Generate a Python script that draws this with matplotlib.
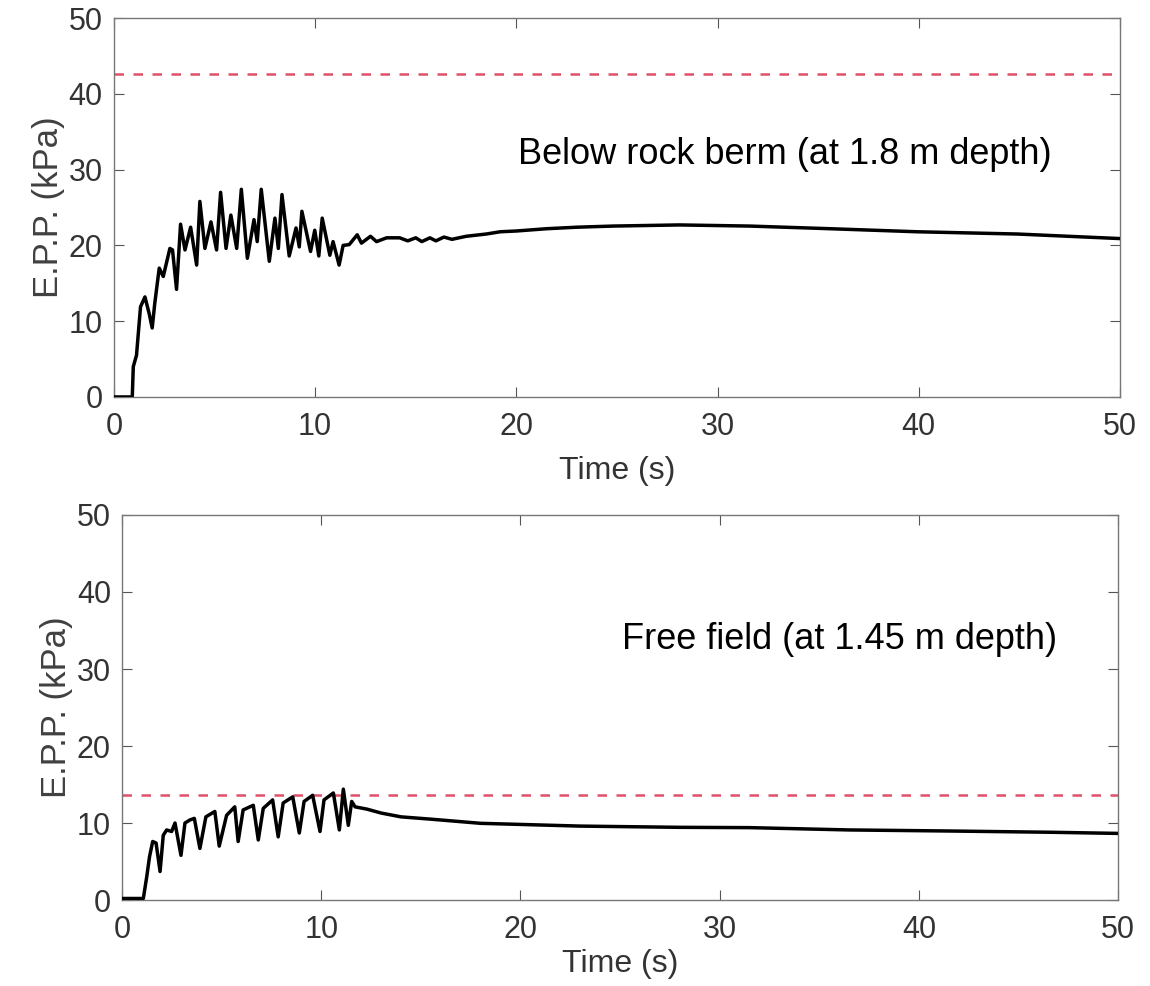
import numpy as np
import matplotlib.pyplot as plt

plt.rcParams['font.family'] = ['Liberation Sans', 'DejaVu Sans']

# below rock berm (1.8 m depth)
t_top = [0, 0.91, 0.96, 1.12, 1.32, 1.54, 1.75, 1.90, 2.03, 2.25, 2.45, 2.78, 2.91, 3.11,
         3.31, 3.53, 3.81, 4.11, 4.27, 4.52, 4.82, 5.10, 5.30, 5.57, 5.81, 6.10, 6.33,
         6.63, 6.96, 7.12, 7.32, 7.72, 8.00, 8.17, 8.35, 8.71, 9.05, 9.21, 9.34, 9.77,
         9.98, 10.18, 10.35, 10.73, 10.89, 11.19, 11.39, 11.69, 12.09, 12.30, 12.75,
         13.05, 13.55, 14.2, 14.6, 15.0, 15.3, 15.7, 16.0, 16.4, 16.8, 17.5, 18.5, 19.2,
         20.0, 21.5, 23.0, 24.8, 28.1, 31.6, 35.6, 39.9, 44.9, 50.0]
p_top = [0, 0, 4.0, 5.5, 11.9, 13.2, 11.0, 9.1, 12.4, 17.0, 15.9, 19.6, 19.4, 14.2,
         22.8, 19.4, 22.4, 17.4, 25.8, 19.6, 23.1, 19.4, 27.0, 19.6, 24.0, 19.6, 27.4,
         18.3, 23.4, 20.5, 27.4, 17.9, 23.6, 19.6, 26.7, 18.6, 22.3, 19.8, 24.5, 19.2,
         22.0, 18.6, 23.6, 18.7, 20.5, 17.4, 20.0, 20.1, 21.4, 20.3, 21.2,
         20.5, 21.0, 21.0, 20.6, 21.0, 20.5, 21.0, 20.6, 21.1, 20.8, 21.2, 21.5, 21.8,
         21.9, 22.2, 22.4, 22.55, 22.7, 22.55, 22.2, 21.8, 21.5, 20.9]
lim_top = 42.6

# free field (1.45 m depth)
t_bot = [0, 1.07, 1.24, 1.38, 1.54, 1.71, 1.91, 2.07, 2.24, 2.49, 2.66, 2.96, 3.16,
         3.41, 3.63, 3.91, 4.21, 4.66, 4.88, 5.25, 5.66, 5.83, 6.08, 6.59, 6.84, 7.09,
         7.56, 7.84, 8.09, 8.57, 8.90, 9.14, 9.57, 9.94, 10.14, 10.61, 10.91, 11.11,
         11.36, 11.53, 11.70, 12.3, 13.0, 14.0, 15.5, 18.0, 23.0, 28.0, 31.5, 36.5,
         41.6, 46.6, 50.0]
p_bot = [0.2, 0.2, 3.0, 5.6, 7.6, 7.4, 3.7, 8.4, 9.1, 8.9, 10.0, 5.8, 10.0,
         10.4, 10.6, 6.7, 10.8, 11.5, 7.0, 11.0, 12.1, 7.6, 11.7, 12.3, 7.8, 11.9,
         13.0, 8.2, 12.6, 13.4, 8.7, 12.8, 13.6, 8.9, 13.0, 13.9, 9.1, 14.4,
         9.7, 12.8, 12.1, 11.8, 11.3, 10.8, 10.5, 9.96, 9.6, 9.44, 9.4, 9.1,
         8.96, 8.8, 8.65]
lim_bot = 13.6

fig = plt.figure(figsize=(11.5, 9.86), dpi=100)
ax1 = fig.add_axes([0.0991, 0.5974, 0.8748, 0.3843])
ax2 = fig.add_axes([0.1061, 0.0872, 0.8661, 0.3905])

panels = [(ax1, t_top, p_top, lim_top, 'Below rock berm (at 1.8 m depth)', 20.1, 32.0, 10),
          (ax2, t_bot, p_bot, lim_bot, 'Free field (at 1.45 m depth)', 25.1, 33.8, 3)]

for ax, t, p, lim, label, tx, ty, xpad in panels:
    ax.plot(t, p, color='black', lw=2.5, zorder=3)
    ax.axhline(lim, color='#e05068', lw=1.8, dashes=(3.8, 3.8), zorder=2)
    ax.set_xlim(0, 50)
    ax.set_ylim(0, 50)
    ax.set_xticks(np.arange(0, 51, 10))
    ax.set_yticks(np.arange(0, 51, 10))
    ax.tick_params(direction='in', length=7, width=0.8, color='#555555',
                   labelsize=22, labelcolor='#333333', top=True, right=True)
    ax.tick_params(axis='x', pad=11)
    ax.tick_params(axis='y', pad=8)
    for s in ax.spines.values():
        s.set_color('#777777')
        s.set_linewidth(1.0)
    ax.set_xlabel('Time (s)', fontsize=23, color='#333333', labelpad=xpad)
    ax.set_ylabel('E.P.P. (kPa)', fontsize=25, color='#404040', labelpad=3)
    ax.text(tx, ty, label, fontsize=26, va='center', ha='left', color='black')

fig.savefig('out.png', dpi=100)
